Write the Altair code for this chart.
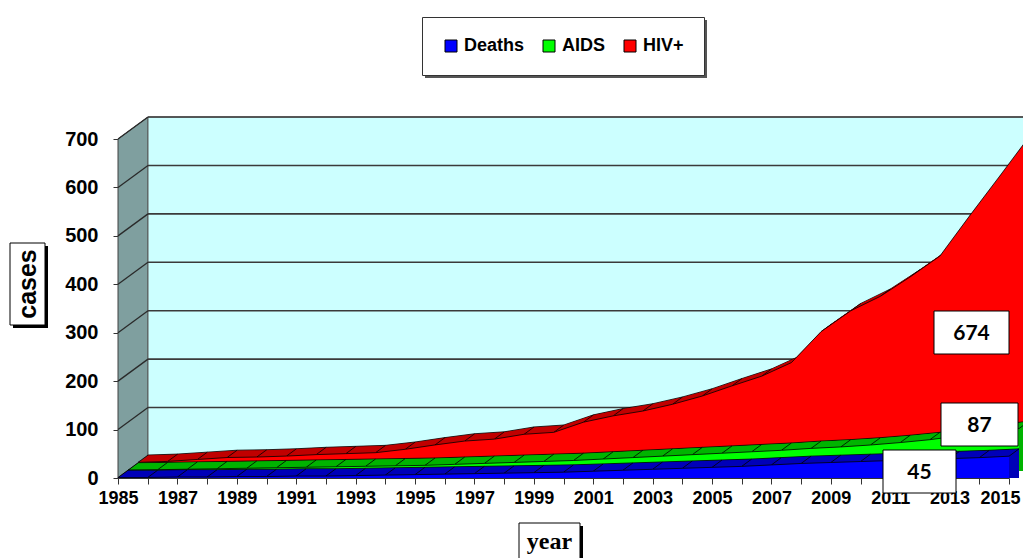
import altair as alt
import pandas as pd
import numpy as np

# ---------------- data ----------------
years = list(range(1985, 2016))
deaths = [1, 1, 2, 2, 3, 3, 4, 4, 5, 6, 7, 8, 9, 10, 11, 12, 14, 16, 18, 20,
          22, 24, 27, 30, 32, 34, 36, 38, 40, 42, 45]
aids = [1, 2, 3, 4, 5, 6, 7, 8, 9, 10, 11, 13, 15, 17, 19, 21, 24, 27, 30, 33,
        36, 39, 42, 46, 49, 53, 58, 64, 72, 80, 87]
hiv = [2, 4, 8, 12, 13, 15, 18, 20, 22, 29, 38, 46, 50, 60, 64, 85, 98, 108,
       122, 139, 160, 180, 208, 272, 315, 345, 385, 428, 511, 592, 674]
series_names = ["Deaths", "AIDS", "HIV+"]
series_values = [deaths, aids, hiv]
y_ticks = [0, 100, 200, 300, 400, 500, 600, 700]

# ---------------- styling ----------------
front_colors = ["#0000FF", "#00FF00", "#FF0000"]
top_colors = ["#0000B8", "#00B400", "#C00000"]
W, H = 891, 339
DX, DY = 30.0, -22.0          # total depth of the 3-D box in pixels
NS = len(series_names)
SX, SY = DX / NS, DY / NS
X0, X1 = years[0], years[-1]
Y1 = y_ticks[-1]
FONT = "Liberation Sans"

x_scale = alt.Scale(domain=[X0, X1], nice=False, zero=False)
y_scale = alt.Scale(domain=[0, Y1], nice=False, zero=True)

x_axis = alt.Axis(values=years, format="d",
                  labelExpr="datum.value % 2 == 1 ? datum.label : ''",
                  title=None, grid=False, tickSize=6, tickColor="#333333",
                  domainColor="#333333", labelFont=FONT, labelFontSize=18,
                  labelFontWeight="bold", labelColor="black", labelPadding=5,
                  labelOffset=alt.ExprRef(expr=f"datum.value == {X1} ? -9 : 0"),
                  labelFlush=False, labelOverlap=False)
y_axis = alt.Axis(values=y_ticks, title=None, grid=False, tickSize=5,
                  tickColor="#333333", domainColor="#333333", labelFont=FONT,
                  labelFontSize=20, labelFontWeight="bold", labelColor="black",
                  labelPadding=15, labelFlush=False, labelOverlap=False)


def enc_x(field="year"):
    return alt.X(f"{field}:Q", scale=x_scale, axis=x_axis)


def enc_y(field="value"):
    return alt.Y(f"{field}:Q", scale=y_scale, axis=y_axis, stack=None)


legend = alt.Legend(orient="none", legendX=304, legendY=-122,
                    direction="horizontal", columns=3, title=None,
                    padding=20, columnPadding=15, fillColor="white",
                    strokeColor="#333333", symbolType="square",
                    symbolSize=144, symbolStrokeColor="black",
                    symbolStrokeWidth=1, labelFont=FONT, labelFontSize=18,
                    labelFontWeight="bold", labelColor="black", labelOffset=4)
color_enc = alt.Color("series:N",
                      scale=alt.Scale(domain=series_names, range=front_colors),
                      legend=legend)

layers = []

# ---------------- walls ----------------
dx_years = DX / (W / (X1 - X0))
dy_units = -DY / (H / Y1)
side = pd.DataFrame({"year": [X0, X0 + dx_years],
                     "value": [0, dy_units],
                     "value2": [Y1, Y1 + dy_units]})
layers.append(alt.Chart(side).mark_area(fill="#7F9F9F", stroke="#404040",
                                        strokeWidth=1, opacity=1)
              .encode(x=enc_x(), y=enc_y(), y2="value2:Q"))

wall = pd.DataFrame({"year": [X0], "year2": [X1], "value": [0], "value2": [Y1]})
layers.append(alt.Chart(wall).mark_rect(fill="#CCFFFF", stroke="#606060",
                                        opacity=1,
                                        xOffset=DX, x2Offset=DX,
                                        yOffset=DY, y2Offset=DY)
              .encode(x=enc_x(), x2="year2:Q", y=enc_y(), y2="value2:Q"))

grid = pd.DataFrame({"year": [X0] * len(y_ticks), "year2": [X1] * len(y_ticks),
                     "value": y_ticks})
layers.append(alt.Chart(grid).mark_rule(color="#3A3A3A", strokeWidth=1.6,
                                        xOffset=DX, x2Offset=DX,
                                        yOffset=DY, y2Offset=DY)
              .encode(x=enc_x(), x2="year2:Q", y=enc_y(), y2="value:Q"))
layers.append(alt.Chart(grid).mark_rule(color="#2A2A2A", strokeWidth=1.3,
                                        x2Offset=DX, y2Offset=DY)
              .encode(x=enc_x(), x2="year:Q", y=enc_y(), y2="value:Q"))

# ---------------- 3-D area slabs (back to front) ----------------
for k in reversed(range(NS)):
    df = pd.DataFrame({"year": years, "value": series_values[k],
                       "zero": [0] * len(years),
                       "series": [series_names[k]] * len(years)})
    steps = np.linspace(k + 1, k, 11)[:-1]
    for j, t in enumerate(steps):
        # each copy reaches down to the slab's front baseline so the sweep is solid
        layers.append(alt.Chart(df).mark_area(fill=top_colors[k], opacity=1,
                                              xOffset=t * SX, yOffset=t * SY,
                                              y2Offset=k * SY)
                      .encode(x=enc_x(), y=enc_y(), y2="zero:Q"))
        if j == 0:
            layers.append(alt.Chart(df).mark_line(color="black", strokeWidth=0.8,
                                                  xOffset=t * SX, yOffset=t * SY)
                          .encode(x=enc_x(), y=enc_y()))
    layers.append(alt.Chart(df).mark_rule(color="black", strokeWidth=0.8,
                                          xOffset=k * SX, yOffset=k * SY,
                                          x2Offset=(k + 1) * SX,
                                          y2Offset=(k + 1) * SY)
                  .encode(x=enc_x(), x2="year:Q", y=enc_y(), y2="value:Q"))
    layers.append(alt.Chart(df).mark_area(xOffset=k * SX, yOffset=k * SY,
                                          y2Offset=k * SY, opacity=1)
                  .encode(x=enc_x(), y=enc_y(), y2="zero:Q", color=color_enc))
    layers.append(alt.Chart(df).mark_line(color="black", strokeWidth=0.8,
                                          xOffset=k * SX, yOffset=k * SY)
                  .encode(x=enc_x(), y=enc_y()))

# ---------------- annotation boxes ----------------
one = pd.DataFrame({"d": [0]})


def box(x1, y1, x2, y2, shadow=0):
    out = []
    if shadow:
        out.append(alt.Chart(one).mark_rect(fill="black")
                   .encode(x=alt.value(x1 + shadow), x2=alt.value(x2 + shadow),
                           y=alt.value(y1 + shadow), y2=alt.value(y2 + shadow)))
    out.append(alt.Chart(one).mark_rect(fill="white", stroke="black",
                                        strokeWidth=1)
               .encode(x=alt.value(x1), x2=alt.value(x2),
                       y=alt.value(y1), y2=alt.value(y2)))
    return out


# legend shadow
layers.append(alt.Chart(one).mark_rect(fill="#555555")
              .encode(x=alt.value(307), x2=alt.value(589),
                      y=alt.value(-119), y2=alt.value(-61)))

# final value labels
label_boxes = [(765, 311, 838, 354), (823, 264, 900, 307), (816, 172, 891, 215)]
for k in range(NS):
    x1, y1, x2, y2 = label_boxes[k]
    layers += box(x1, y1, x2, y2)
    layers.append(alt.Chart(one).mark_text(font="Lato", fontSize=21,
                                           fontWeight="bold", color="black",
                                           align="center", baseline="middle")
                  .encode(x=alt.value((x1 + x2) / 2), y=alt.value((y1 + y2) / 2 + 1),
                          text=alt.value(str(series_values[k][-1]))))

# axis titles in boxes
layers += box(-108, 104, -73, 186, shadow=3)
layers.append(alt.Chart(one).mark_text(font=FONT, fontSize=25, fontWeight="bold",
                                       color="black", angle=270,
                                       align="center", baseline="middle")
              .encode(x=alt.value(-90.5), y=alt.value(145), text=alt.value("cases")))
layers += box(401, 384, 462, 430, shadow=3)
layers.append(alt.Chart(one).mark_text(font="Liberation Serif", fontSize=24,
                                       fontWeight="bold", color="black",
                                       align="center", baseline="alphabetic")
              .encode(x=alt.value(431.5), y=alt.value(410), text=alt.value("year")))

chart = (alt.layer(*layers)
         .properties(width=W, height=H,
                     autosize=alt.AutoSizeParams(type="none"),
                     padding={"left": 110, "top": 131, "right": 14, "bottom": 80})
         .configure_view(strokeWidth=0))

chart.save("out.html", embed_options={"renderer": "svg", "actions": False})
